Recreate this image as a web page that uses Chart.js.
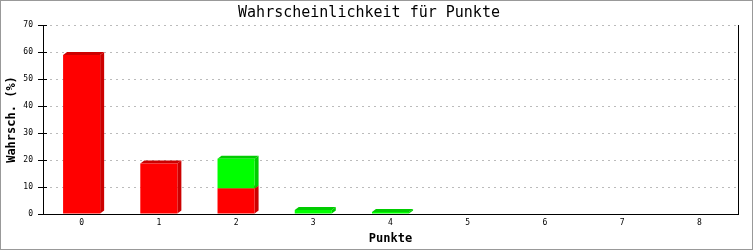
<!DOCTYPE html>
<html>
<head>
<meta charset="utf-8">
<script src="https://cdn.jsdelivr.net/npm/chart.js@4/dist/chart.umd.min.js"></script>
<style>
  html, body { margin: 0; padding: 0; background: #fff; }
  #wrap { width: 753px; height: 250px; }
</style>
</head>
<body>
<div id="wrap"><canvas id="punkteChart" width="753" height="250"></canvas></div>
<script>
// Daten
const punkte = ['0', '1', '2', '3', '4', '5', '6', '7', '8'];
const rotWerte = [58.9, 18.7, 9.4, 0, 0, 0, 0, 0, 0];
const gruenWerte = [0, 0, 11.1, 1.5, 0.7, 0, 0, 0, 0];
const yTicks = [0, 10, 20, 30, 40, 50, 60, 70];

const TIEFE_X = 4, TIEFE_Y = 3;

// 3D-Seiten hinter die Balken zeichnen
const balken3d = {
  id: 'balken3d',
  beforeDatasetsDraw(chart) {
    const ctx = chart.ctx;
    chart.data.datasets.forEach((ds, i) => {
      const meta = chart.getDatasetMeta(i);
      meta.data.forEach(el => {
        const p = el.getProps(['x', 'y', 'base', 'width'], true);
        const left = p.x - p.width / 2, right = p.x + p.width / 2;
        const top = Math.min(p.y, p.base), bottom = Math.max(p.y, p.base);
        if (bottom - top < 0.5) return;
        ctx.save();
        ctx.fillStyle = ds.dunkel;
        ctx.beginPath();
        ctx.moveTo(right, bottom);
        ctx.lineTo(right, top);
        ctx.lineTo(right + TIEFE_X, top - TIEFE_Y);
        ctx.lineTo(right + TIEFE_X, bottom - TIEFE_Y);
        ctx.closePath();
        ctx.fill();
        ctx.beginPath();
        ctx.moveTo(left, top);
        ctx.lineTo(left + TIEFE_X, top - TIEFE_Y);
        ctx.lineTo(right + TIEFE_X, top - TIEFE_Y);
        ctx.lineTo(right, top);
        ctx.closePath();
        ctx.fill();
        ctx.restore();
      });
    });
  }
};

// Rahmen: rechte Linie, Ticks nach innen und grauer Rand
const rahmen = {
  id: 'rahmen',
  afterDraw(chart) {
    const ctx = chart.ctx, a = chart.chartArea, y = chart.scales.y;
    ctx.save();
    ctx.strokeStyle = '#000';
    ctx.lineWidth = 1;
    ctx.beginPath();
    ctx.moveTo(Math.round(a.right) + 0.5, a.top);
    ctx.lineTo(Math.round(a.right) + 0.5, a.bottom);
    y.ticks.forEach(t => {
      const py = Math.round(y.getPixelForValue(t.value)) + 0.5;
      ctx.moveTo(a.left, py);
      ctx.lineTo(a.left + 4, py);
    });
    ctx.stroke();
    ctx.strokeStyle = '#999';
    ctx.strokeRect(0.5, 0.5, chart.width - 1, chart.height - 1);
    ctx.restore();
  }
};

Chart.defaults.font.family = "'DejaVu Sans Mono', monospace";
Chart.defaults.color = '#000';

new Chart(document.getElementById('punkteChart'), {
  type: 'bar',
  data: {
    labels: punkte,
    datasets: [{
      data: rotWerte,
      backgroundColor: '#ff0000',
      dunkel: '#cc0000',
      borderWidth: 0
    }, {
      data: gruenWerte,
      backgroundColor: '#00ff00',
      dunkel: '#00cc00',
      borderWidth: 0
    }]
  },
  options: {
    responsive: false,
    animation: false,
    events: [],
    barPercentage: 0.48,
    categoryPercentage: 1.0,
    layout: { padding: { left: 0, right: 15, top: 0, bottom: 0 } },
    plugins: {
      legend: { display: false },
      tooltip: { enabled: false },
      title: {
        display: true,
        text: 'Wahrscheinlichkeit für Punkte',
        font: { size: 15, weight: 'normal' },
        padding: { top: 4, bottom: 3 }
      }
    },
    scales: {
      x: {
        stacked: true,
        grid: { display: false, drawTicks: false },
        border: { color: '#000', width: 1 },
        ticks: { font: { size: 8 }, padding: 4, maxRotation: 0 },
        title: {
          display: true,
          text: 'Punkte',
          font: { size: 12, weight: 'bold' },
          padding: { top: 0, bottom: 4 }
        },
        afterFit(s) { s.height = 36; }
      },
      y: {
        stacked: true,
        min: 0,
        max: 70,
        afterBuildTicks(s) { s.ticks = yTicks.map(v => ({ value: v })); },
        grid: {
          color: c => (c.tick && c.tick.value === 0) ? 'rgba(0,0,0,0)' : '#bbbbbb',
          tickColor: '#000',
          tickLength: 5,
          tickBorderDash: []
        },
        border: { color: '#000', width: 1, dash: [2, 4] },
        ticks: { font: { size: 8 }, padding: 5 },
        title: {
          display: true,
          text: 'Wahrsch. (%)',
          font: { size: 12, weight: 'bold' },
          padding: { top: 5, bottom: 0 }
        },
        afterFit(s) { s.width = 43; }
      }
    }
  },
  plugins: [balken3d, rahmen]
});
</script>
</body>
</html>
